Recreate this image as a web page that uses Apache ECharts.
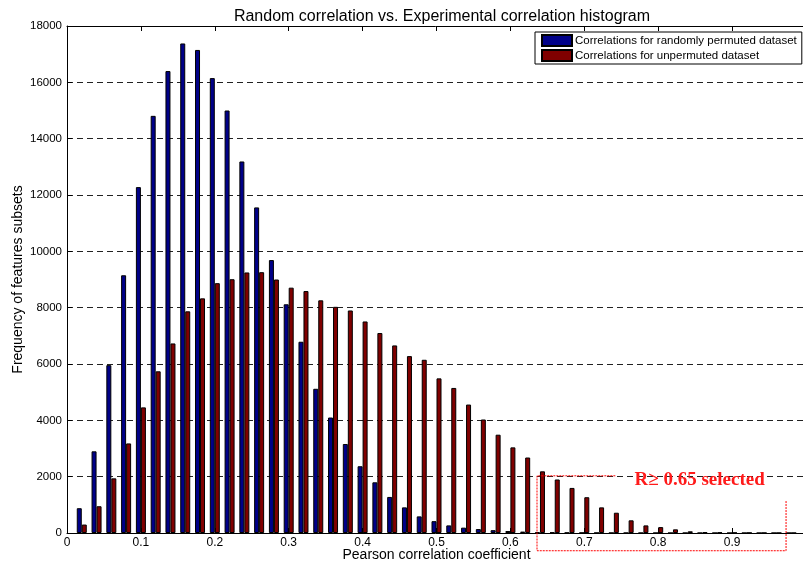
<!DOCTYPE html>
<html><head><meta charset="utf-8">
<script src="https://cdn.jsdelivr.net/npm/echarts@6/dist/echarts.min.js"></script>
<style>html,body{margin:0;padding:0;background:#fff}#c{width:803px;height:566px}</style>
</head><body><div id="c"></div>
<script>
const titleText = 'Random correlation vs. Experimental correlation histogram';
const xAxisName = 'Pearson correlation coefficient';
const yAxisName = 'Frequency of features subsets';
const seriesNames = ['Correlations for randomly permuted dataset', 'Correlations for unpermuted dataset'];
const binCenters = [0.02,0.04,0.06,0.08,0.10,0.12,0.14,0.16,0.18,0.20,
  0.22,0.24,0.26,0.28,0.30,0.32,0.34,0.36,0.38,0.40,
  0.42,0.44,0.46,0.48,0.50,0.52,0.54,0.56,0.58,0.60,
  0.62,0.64,0.66,0.68,0.70,0.72,0.74,0.76,0.78,0.80,
  0.82,0.84,0.86,0.88,0.90,0.92,0.94,0.96,0.98];
const randomCounts = [880,2900,5960,9150,12280,14810,16400,17380,17150,16150,
  15000,13190,11560,9690,8120,6790,5120,4100,3160,2370,
  1800,1280,910,590,420,270,190,140,100,70,
  50,30,20,12,8,5,3,2,1,1,
  0,0,0,0,0,0,0,0,0];
const experimentalCounts = [300,950,1940,3180,4460,5740,6730,7870,8330,8870,
  9010,9250,9260,9000,8710,8590,8260,8030,7900,7510,
  7100,6660,6280,6150,5490,5150,4560,4030,3490,3040,
  2680,2190,1900,1600,1270,910,720,450,270,210,
  130,60,30,20,12,8,5,3,2];
const annotationText = 'R\u2265 0.65 selected';
const selectBox = {x0: 0.636, x1: 0.973, xTop: 0.742, yTop: 2030, yBottom: -630, yRightTop: 1170};
const annotationPos = [0.768, 1880];

const FONT = '"Liberation Sans", Arial, Helvetica, sans-serif';
const chart = echarts.init(document.getElementById('c'));
const pair = (xs, ys) => xs.map((x, i) => [x, ys[i]]);
chart.setOption({
  animation: false,
  backgroundColor: '#fff',
  title: {text: titleText, left: 437, textAlign: 'center', top: 4,
    textStyle: {fontFamily: FONT, fontSize: 16, fontWeight: 'normal', color: '#000'}},
  legend: {
    orient: 'vertical', left: 535, top: 32, icon: 'rect',
    itemWidth: 30, itemHeight: 11, itemGap: 2,
    padding: [2, 5, 2, 6],
    backgroundColor: '#fff', borderColor: '#000', borderWidth: 1,
    textStyle: {fontFamily: FONT, fontSize: 11.5, lineHeight: 12, color: '#000', padding: [0,0,0,-2]},
    data: seriesNames
  },
  grid: {left: 67, top: 26, right: -3, bottom: 33, outerBoundsMode: 'none', containLabel: false},
  xAxis: [{
    type: 'value', min: 0, max: 1, interval: 0.1, position: 'bottom',
    name: xAxisName, nameLocation: 'middle', nameGap: 15, nameMoveOverlap: false,
    nameTextStyle: {fontFamily: FONT, fontSize: 14, color: '#000'},
    axisLine: {onZero: false, lineStyle: {color: '#000', width: 1}},
    axisTick: {inside: true, length: 5, lineStyle: {color: '#000'}},
    axisLabel: {fontFamily: FONT, fontSize: 12, color: '#000', margin: 4, showMaxLabel: false,
      formatter: v => (v >= 0.999 ? '' : (v === 0 ? '0' : v.toFixed(1)))},
    splitLine: {show: false}
  }, {
    type: 'value', min: 0, max: 1, interval: 0.1, position: 'top',
    axisLine: {onZero: false, lineStyle: {color: '#000', width: 1}},
    axisTick: {inside: true, length: 5, lineStyle: {color: '#000'}},
    axisLabel: {show: false}, splitLine: {show: false}
  }],
  yAxis: {
    type: 'value', min: 0, max: 18000, interval: 2000,
    name: yAxisName, nameLocation: 'middle', nameGap: 42, nameMoveOverlap: false,
    nameTextStyle: {fontFamily: FONT, fontSize: 14, color: '#000'},
    axisLine: {show: true, lineStyle: {color: '#000', width: 1}},
    axisTick: {show: true, inside: true, length: 5, lineStyle: {color: '#000'}},
    axisLabel: {fontFamily: FONT, fontSize: 11.5, color: '#000', margin: 5, formatter: v => String(v)},
    splitLine: {show: true, lineStyle: {color: '#222', width: 1, type: [6, 4]}}
  },
  series: [{
    name: seriesNames[0], type: 'bar', xAxisIndex: 0,
    data: pair(binCenters, randomCounts),
    barWidth: 5, barGap: '0%',
    itemStyle: {color: '#000088', borderColor: '#000', borderWidth: 1}
  }, {
    name: seriesNames[1], type: 'bar', xAxisIndex: 0,
    data: pair(binCenters, experimentalCounts),
    barWidth: 5, barGap: '0%',
    itemStyle: {color: '#800000', borderColor: '#000', borderWidth: 1}
  }]
});

const P = (x, y) => chart.convertToPixel({gridIndex: 0}, [x, y]);
const a = P(selectBox.x0, selectBox.yTop), b = P(selectBox.xTop, selectBox.yTop);
const c = P(selectBox.x0, selectBox.yBottom), d = P(selectBox.x1, selectBox.yBottom);
const e = P(selectBox.x1, selectBox.yRightTop);
const t = P(annotationPos[0], annotationPos[1]);
const dotted = {stroke: '#ff0000', lineWidth: 1, lineDash: [2, 1]};
chart.setOption({graphic: [
  {type: 'polyline', shape: {points: [b, a, c, d, e]}, style: Object.assign({fill: null}, dotted), z: 100},
  {type: 'text', x: t[0], y: t[1], style: {text: annotationText, fill: '#ff1a1a',
    font: 'bold 19px "Liberation Serif", "Times New Roman", serif', textVerticalAlign: 'middle'}, z: 100}
]});
</script>
</body></html>
